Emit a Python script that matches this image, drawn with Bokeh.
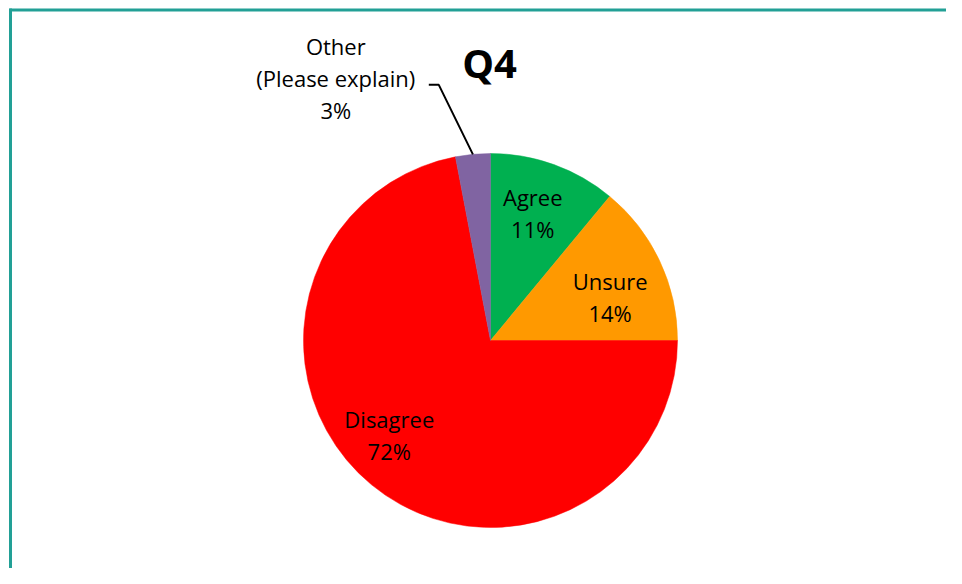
import math
from bokeh.plotting import figure
from bokeh.models import Range1d
from bokeh.core.properties import value
from bokeh.embed import file_html
from bokeh.resources import INLINE

# ---- data ----
categories = ["Agree", "Unsure", "Disagree", "Other\n(Please explain)"]
percents = [11, 14, 72, 3]
colors = ["#00B050", "#FF9900", "#FF0000", "#8064A2"]
title_text = "Q4"

# ---- layout (pixel coordinates; data y = H - screen y) ----
W, H = 946, 568
def sy(y):
    return H - y

CX, CY, R = 490, sy(340), 187
FONT = value("Open Sans")

p = figure(width=W, height=H, output_backend="svg", toolbar_location=None,
           x_range=Range1d(0, W), y_range=Range1d(0, H), min_border=0)
p.axis.visible = False
p.grid.visible = False
p.outline_line_color = None
p.background_fill_color = "white"
p.border_fill_color = "white"

# frame (teal border)
p.segment(x0=[9, 10], y0=[sy(9.5), sy(8)], x1=[W + 5, 10], y1=[sy(9.5), sy(H + 5)],
          line_color="#22A096", line_width=3)

# wedges: start at 12 o'clock, clockwise
total = sum(percents)
starts, ends, mids = [], [], []
cum = 0.0
for v in percents:
    a0 = math.pi / 2 - 2 * math.pi * (cum + v) / total
    a1 = math.pi / 2 - 2 * math.pi * cum / total
    starts.append(a0)
    ends.append(a1)
    mids.append((a0 + a1) / 2)
    cum += v

p.wedge(x=[CX] * len(percents), y=[CY] * len(percents), radius=R,
        start_angle=starts, end_angle=ends, fill_color=colors,
        line_color=colors, line_width=0.5)

# labels
labels = [f"{c}\n{v}%" for c, v in zip(categories, percents)]
# label placement (radius fraction, angle tweak in degrees) per slice
label_r = [0.72, 0.68, 0.74, 1.63]
label_tweak = [1.5, -5.3, -7.4, 25.1]
lx, ly = [], []
for m, rf, tw in zip(mids, label_r, label_tweak):
    a = m + math.radians(tw)
    lx.append(CX + rf * R * math.cos(a))
    ly.append(CY + rf * R * math.sin(a))

p.text(x=lx, y=ly, text=labels, text_font=FONT, text_font_size="22px",
       text_color="black", text_align="center", text_baseline="middle",
       text_line_height=1.06)

# leader line for the small slice
om = mids[3]
ex = CX + R * math.cos(om)
ey = CY + R * math.sin(om)
p.line(x=[lx[3] + 93, lx[3] + 103, ex], y=[ly[3] - 7, ly[3] - 7, ey],
       line_color="black", line_width=2)

# title
p.text(x=[CX - 1], y=[sy(62)], text=[title_text], text_font=FONT,
       text_font_size="40px", text_font_style="bold", text_color="black",
       text_align="center", text_baseline="middle")

open("out.html", "w").write(file_html(p, INLINE))
